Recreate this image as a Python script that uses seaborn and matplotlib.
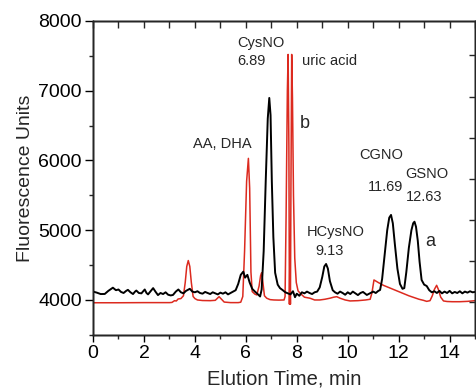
import numpy as np
import pandas as pd
import matplotlib
matplotlib.use("Agg")
import matplotlib.pyplot as plt
import seaborn as sns
from matplotlib.ticker import MultipleLocator, NullFormatter

OUTPUT_PATH = "out.png"

# trace a (black): elution time (min) and fluorescence
time_a = [0.0, 0.15, 0.30, 0.46, 0.60, 0.78, 0.90, 1.00, 1.10, 1.20, 1.30, 1.37, 1.47, 1.57,
          1.65, 1.70, 1.80, 1.90, 2.03, 2.10, 2.16, 2.25, 2.36, 2.45, 2.55, 2.65, 2.75, 2.85,
          2.95, 3.05, 3.14, 3.25, 3.35, 3.45, 3.55, 3.65, 3.80, 3.90, 4.00, 4.10, 4.20, 4.30,
          4.40, 4.50, 4.60, 4.70, 4.80, 4.90, 5.00, 5.10, 5.20, 5.30, 5.40, 5.50, 5.60, 5.70,
          5.80, 5.90, 5.97, 6.06, 6.15, 6.25, 6.36, 6.45, 6.56, 6.62, 6.70, 6.78, 6.86, 6.92,
          6.97, 7.02, 7.08, 7.15, 7.25, 7.34, 7.45, 7.55, 7.65, 7.75, 7.85, 7.93, 8.00, 8.10,
          8.20, 8.30, 8.40, 8.50, 8.60, 8.70, 8.80, 8.90, 9.00, 9.08, 9.15, 9.22, 9.30, 9.41,
          9.50, 9.60, 9.70, 9.80, 9.90, 10.00, 10.10, 10.20, 10.30, 10.40, 10.50, 10.60, 10.75,
          10.90, 11.00, 11.10, 11.20, 11.27, 11.35, 11.45, 11.55, 11.63, 11.70, 11.77, 11.85,
          11.95, 12.05, 12.15, 12.22, 12.30, 12.40, 12.50, 12.57, 12.62, 12.68, 12.75, 12.82,
          12.90, 13.00, 13.10, 13.20, 13.30, 13.40, 13.50, 13.60, 13.70, 13.80, 13.90, 14.00,
          14.10, 14.20, 14.30, 14.40, 14.50, 14.60, 14.70, 14.80, 14.90, 15.00]
signal_a = [4120, 4105, 4085, 4086, 4130, 4176, 4140, 4150, 4115, 4100, 4130, 4145, 4110, 4085,
            4120, 4135, 4100, 4095, 4150, 4100, 4080, 4120, 4170, 4120, 4070, 4100, 4085, 4110,
            4075, 4065, 4072, 4120, 4150, 4110, 4095, 4130, 4160, 4120, 4110, 4125, 4100, 4090,
            4115, 4100, 4085, 4110, 4095, 4080, 4105, 4090, 4110, 4080, 4100, 4120, 4140, 4230,
            4360, 4406, 4320, 4360, 4250, 4160, 4119, 4090, 4050, 4150, 4700, 5700, 6600, 6896,
            6650, 5700, 4900, 4390, 4220, 4170, 4140, 4110, 4095, 4080, 4125, 4040, 4090, 4060,
            4110, 4095, 4120, 4100, 4085, 4110, 4120, 4180, 4330, 4480, 4516, 4450, 4270, 4140,
            4110, 4090, 4120, 4100, 4075, 4110, 4085, 4120, 4095, 4070, 4100, 4115, 4072,
            4100, 4120, 4100, 4130, 4143, 4300, 4650, 5000, 5180, 5219, 5100, 4800,
            4450, 4230, 4160, 4170, 4400, 4750, 5000, 5100, 5122, 5050, 4850, 4550,
            4287, 4220, 4200, 4140, 4110, 4125, 4100, 4130, 4095, 4120, 4100, 4130,
            4095, 4115, 4100, 4125, 4095, 4120, 4105, 4125, 4110, 4115]

# trace b (red)
time_b = [0.0, 1.0, 2.0, 3.0, 3.10, 3.20, 3.27, 3.34, 3.45, 3.55, 3.62, 3.68, 3.74, 3.80, 3.86,
          3.93, 4.00, 4.10, 4.30, 4.60, 4.80, 4.90, 4.95, 5.02, 5.15, 5.40, 5.70, 5.80, 5.88,
          5.95, 6.03, 6.10, 6.15, 6.20, 6.25, 6.35, 6.43, 6.52, 6.58, 6.62, 6.67, 6.73, 6.82,
          6.95, 7.10, 7.30, 7.50, 7.54, 7.58, 7.63, 7.66, 7.69, 7.71, 7.73, 7.75, 7.77, 7.80,
          7.83, 7.87, 7.92, 7.98, 8.05, 8.15, 8.30, 8.52, 8.70, 8.90, 9.10, 9.30, 9.45, 9.57,
          9.70, 9.90, 10.09, 10.40, 10.70, 10.88, 10.95, 11.03, 11.20, 11.40, 11.60, 11.80,
          12.00, 12.20, 12.40, 12.60, 12.80, 12.97, 13.10, 13.23, 13.32, 13.40, 13.49, 13.56,
          13.65, 13.76, 13.90, 14.10, 14.40, 14.70, 15.00]
signal_b = [3960, 3960, 3962, 3962, 3965, 3990, 3985, 4014, 4020, 4060, 4250, 4480, 4565, 4480, 4250,
            4050, 4020, 4000, 3992, 3990, 3995, 4030, 4047, 4020, 3970, 3962, 3962, 3968, 4050,
            4700, 5700, 6030, 5600, 4400, 4120, 4085, 4072, 4200, 4350, 4390, 4250, 4060, 4025,
            4005, 4000, 3998, 4000, 4050, 5200, 7000, 7520, 6200, 3940, 4650, 3940, 5600, 7520,
            6900, 5500, 4600, 4250, 4130, 4090, 4040, 4025, 4000, 4000, 4010, 4025, 4040, 4047,
            4025, 4000, 3986, 3990, 4000, 4010, 4100, 4287, 4250, 4210, 4180, 4150,
            4120, 4090, 4060, 4035, 4010, 3995, 3980, 3990, 4060, 4150, 4210, 4150,
            4040, 3986, 3978, 3975, 3975, 3980, 3990]

# peak annotations: text, x, y (baseline), font size
labels = ["CysNO", "6.89", "uric acid", "b", "AA, DHA", "CGNO", "11.69", "GSNO", "12.63",
          "HCysNO", "9.13", "a"]
label_x = [5.68, 5.68, 8.19, 8.13, 3.94, 10.46, 10.81, 12.25, 12.29, 8.41, 8.72, 13.03]
label_y = [7632, 7369, 7369, 6462, 6175, 6017, 5567, 5745, 5424, 4918, 4645, 4767]
label_size = [10.5, 10.5, 10.5, 13, 10.5, 10.5, 10.5, 10.5, 10.5, 10.5, 10.5, 13]

RED = "#dc2a1f"


def main():
    sns.set_style("ticks")
    plt.rcParams["font.family"] = ["Liberation Sans", "DejaVu Sans"]

    df_a = pd.DataFrame({"time": time_a, "signal": signal_a})
    df_b = pd.DataFrame({"time": time_b, "signal": signal_b})

    fig = plt.figure(figsize=(4.77, 3.88), dpi=100)
    ax = fig.add_axes([0.195, 0.137, 0.801, 0.809])

    sns.lineplot(data=df_b, x="time", y="signal", ax=ax, color=RED, lw=1.1,
                 sort=False, estimator=None)
    sns.lineplot(data=df_a, x="time", y="signal", ax=ax, color="black", lw=1.4,
                 sort=False, estimator=None)

    ax.set_xlim(0, 15)
    ax.set_ylim(3500, 8000)
    ax.xaxis.set_major_locator(MultipleLocator(2))
    ax.xaxis.set_minor_locator(MultipleLocator(1))
    ax.yaxis.set_major_locator(MultipleLocator(1000))
    ax.yaxis.set_minor_locator(MultipleLocator(500))
    ax.tick_params(which="major", direction="out", length=5, width=1, labelsize=14,
                   pad=2, colors="black")
    ax.tick_params(which="minor", direction="out", length=3, width=1)
    ax.tick_params(axis="y", which="major", length=6)
    ax.set_xlabel("Elution Time, min", fontsize=14.5, labelpad=6)
    ax.set_ylabel("Fluorescence Units", fontsize=14, labelpad=3)
    for sp in ax.spines.values():
        sp.set_visible(True)
        sp.set_linewidth(1.0)
        sp.set_color("black")

    # top axis: inward ticks every minute
    axt = ax.twiny()
    axt.set_xlim(0, 15)
    axt.xaxis.set_major_locator(MultipleLocator(1))
    axt.xaxis.set_major_formatter(NullFormatter())
    axt.tick_params(direction="in", length=5, width=1)

    # right axis: inward ticks, unlabeled
    axr = ax.twinx()
    axr.set_ylim(-0.8, 6.84)
    axr.yaxis.set_major_locator(MultipleLocator(1))
    axr.yaxis.set_major_formatter(NullFormatter())
    axr.tick_params(direction="in", length=4, width=1)
    for a in (axt, axr):
        for sp in a.spines.values():
            sp.set_visible(True)
            sp.set_linewidth(1.0)

    for txt, x, y, fs in zip(labels, label_x, label_y, label_size):
        ax.text(x, y, txt, fontsize=fs, ha="left", va="baseline")

    fig.savefig(OUTPUT_PATH, dpi=100)
    plt.close(fig)


if __name__ == "__main__":
    main()
